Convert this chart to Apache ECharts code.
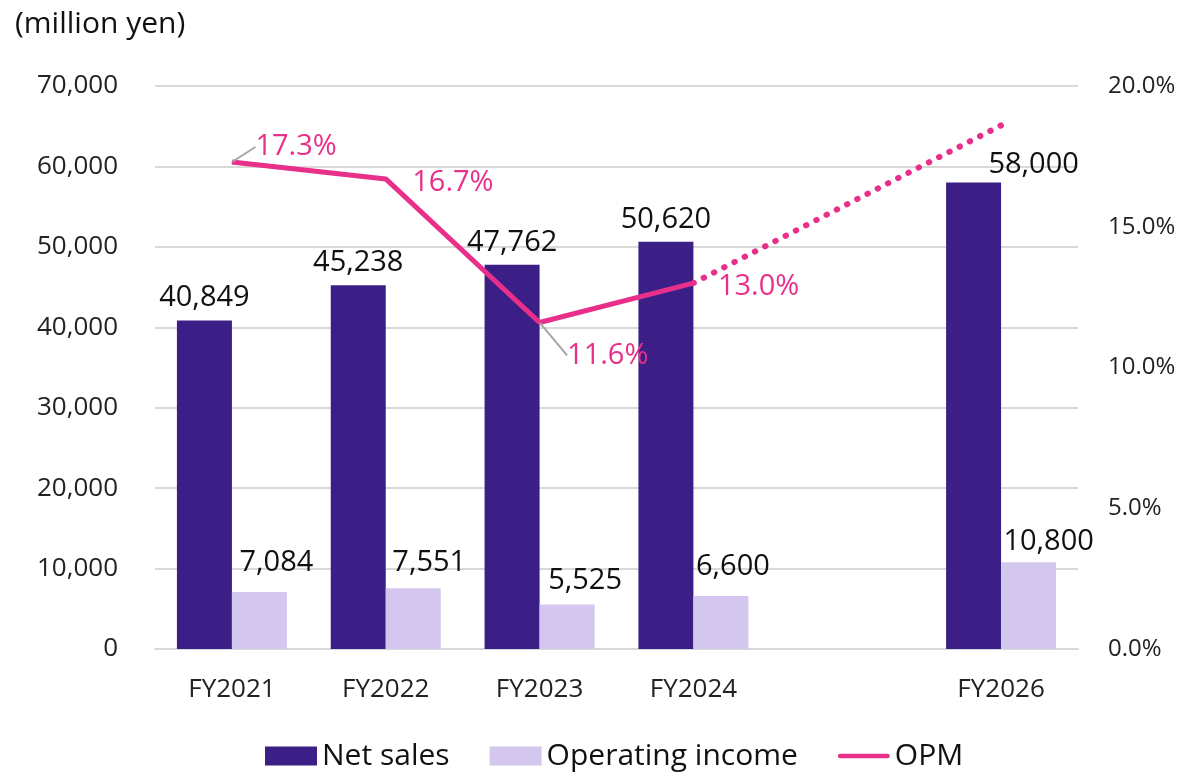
<!DOCTYPE html>
<html>
<head>
<meta charset="utf-8">
<script src="https://cdn.jsdelivr.net/npm/echarts@6/dist/echarts.min.js"></script>
<style>
  html, body { margin: 0; padding: 0; background: #fff; }
  #main { width: 1188px; height: 772px; }
</style>
</head>
<body>
<div id="main"></div>
<script>
var categories = ['FY2021', 'FY2022', 'FY2023', 'FY2024', '', 'FY2026'];
var netSales = [40849, 45238, 47762, 50620, null, 58000];
var opIncome = [7084, 7551, 5525, 6600, null, 10800];
var opm = [17.3, 16.7, 11.6, 13.0, null, null];
var opmPlan = [null, null, null, 13.0, null, 18.6];

var font = 'Open Sans';
var purple = '#3b1f87';
var lavender = '#d4c7ef';
var pink = '#e8308a';

var chart = echarts.init(document.getElementById('main'));

function fmt(v) {
  return v.toLocaleString('en-US');
}

// 每个柱子标签的偏移
var salesOffset = [[0, 0], [0, 0], [0, 0], [0, 0], [0, 0], [60, 5]];
var opOffset = [[17, -7], [16, -3], [18, -1], [12, -7], [0, 0], [20, 2]];
// 利润率标签的位移 (17.3% 和 11.6% 带引导线)
var opmShift = [[3, -15], [6, 4], [7, 33], [4, 4]];

var option = {
  backgroundColor: '#ffffff',
  animation: false,
  textStyle: { fontFamily: font },
  title: {
    text: '(million yen)',
    left: 10,
    top: 4,
    textStyle: { fontFamily: font, fontSize: 30, fontWeight: 'normal', color: '#111' }
  },
  legend: {
    bottom: -4,
    left: 260,
    itemGap: 40,
    itemWidth: 52,
    itemHeight: 19,
    data: [
      { name: 'Net sales', icon: 'rect' },
      { name: 'Operating income', icon: 'rect' },
      { name: 'OPM', icon: 'path://M2,0L58,0A2,2 0 0 1 58,5L2,5A2,2 0 0 1 2,0Z' }
    ],
    textStyle: { fontFamily: font, fontSize: 30, color: '#111' }
  },
  grid: { left: 155, right: 110, top: 86, bottom: 123 },
  xAxis: {
    type: 'category',
    data: categories,
    axisLine: { lineStyle: { color: '#d9d9d9', width: 2 } },
    axisTick: { show: false },
    axisLabel: { fontFamily: font, fontSize: 26, color: '#222', margin: 28 }
  },
  yAxis: [{
    type: 'value',
    min: 0,
    max: 70000,
    interval: 10000,
    axisLine: { show: false },
    axisTick: { show: false },
    splitLine: { lineStyle: { color: '#d9d9d9', width: 2 } },
    axisLabel: { fontFamily: font, fontSize: 26, color: '#222', margin: 37, formatter: fmt }
  }, {
    type: 'value',
    min: 0,
    max: 20,
    interval: 5,
    axisLine: { show: false },
    axisTick: { show: false },
    splitLine: { show: false },
    axisLabel: {
      fontFamily: font, fontSize: 24, color: '#222', margin: 30,
      formatter: function (v) { return v.toFixed(1) + '%'; }
    }
  }],
  series: [{
    name: 'Net sales',
    type: 'bar',
    barWidth: 55,
    barGap: '0%',
    itemStyle: { color: purple },
    data: netSales.map(function (v, i) {
      return { value: v, label: { offset: salesOffset[i] } };
    }),
    label: {
      show: true,
      position: 'top',
      distance: 8,
      fontFamily: font,
      fontSize: 29,
      color: '#111',
      formatter: function (p) { return fmt(p.value); }
    }
  }, {
    name: 'Operating income',
    type: 'bar',
    barWidth: 55,
    itemStyle: { color: lavender },
    data: opIncome.map(function (v, i) {
      return { value: v, label: { offset: opOffset[i] } };
    }),
    label: {
      show: true,
      position: 'top',
      distance: 8,
      fontFamily: font,
      fontSize: 29,
      color: '#111',
      formatter: function (p) { return fmt(p.value); }
    }
  }, {
    name: 'OPM',
    type: 'line',
    yAxisIndex: 1,
    symbol: 'circle',
    symbolSize: 1,
    showSymbol: true,
    itemStyle: { color: pink },
    lineStyle: { color: pink, width: 5 },
    z: 5,
    data: opm.map(function (v, i) {
      return {
        value: v,
        labelLine: { show: i === 0 || i === 2 }
      };
    }),
    label: {
      show: true,
      position: 'right',
      distance: 20,
      fontFamily: font,
      fontSize: 29,
      color: pink,
      formatter: function (p) { return p.value.toFixed(1) + '%'; }
    },
    labelLine: { show: false, lineStyle: { color: '#a6a6a6', width: 2 } },
    labelLayout: function (p) {
      var s = opmShift[p.dataIndex];
      return s ? { dx: s[0], dy: s[1] } : {};
    }
  }, {
    name: 'OPM plan',
    type: 'line',
    yAxisIndex: 1,
    connectNulls: true,
    symbol: 'none',
    lineStyle: { color: pink, width: 6, type: [0.5, 11], cap: 'round' },
    z: 4,
    data: opmPlan.map(function (v, i) {
      return { value: v, label: { show: i === 5 } };
    }),
    label: {
      position: 'right',
      distance: 24,
      offset: [0, 2],
      fontFamily: font,
      fontSize: 29,
      color: pink,
      formatter: function (p) { return p.value.toFixed(1) + '%'; }
    }
  }]
};

chart.setOption(option);
</script>
</body>
</html>
